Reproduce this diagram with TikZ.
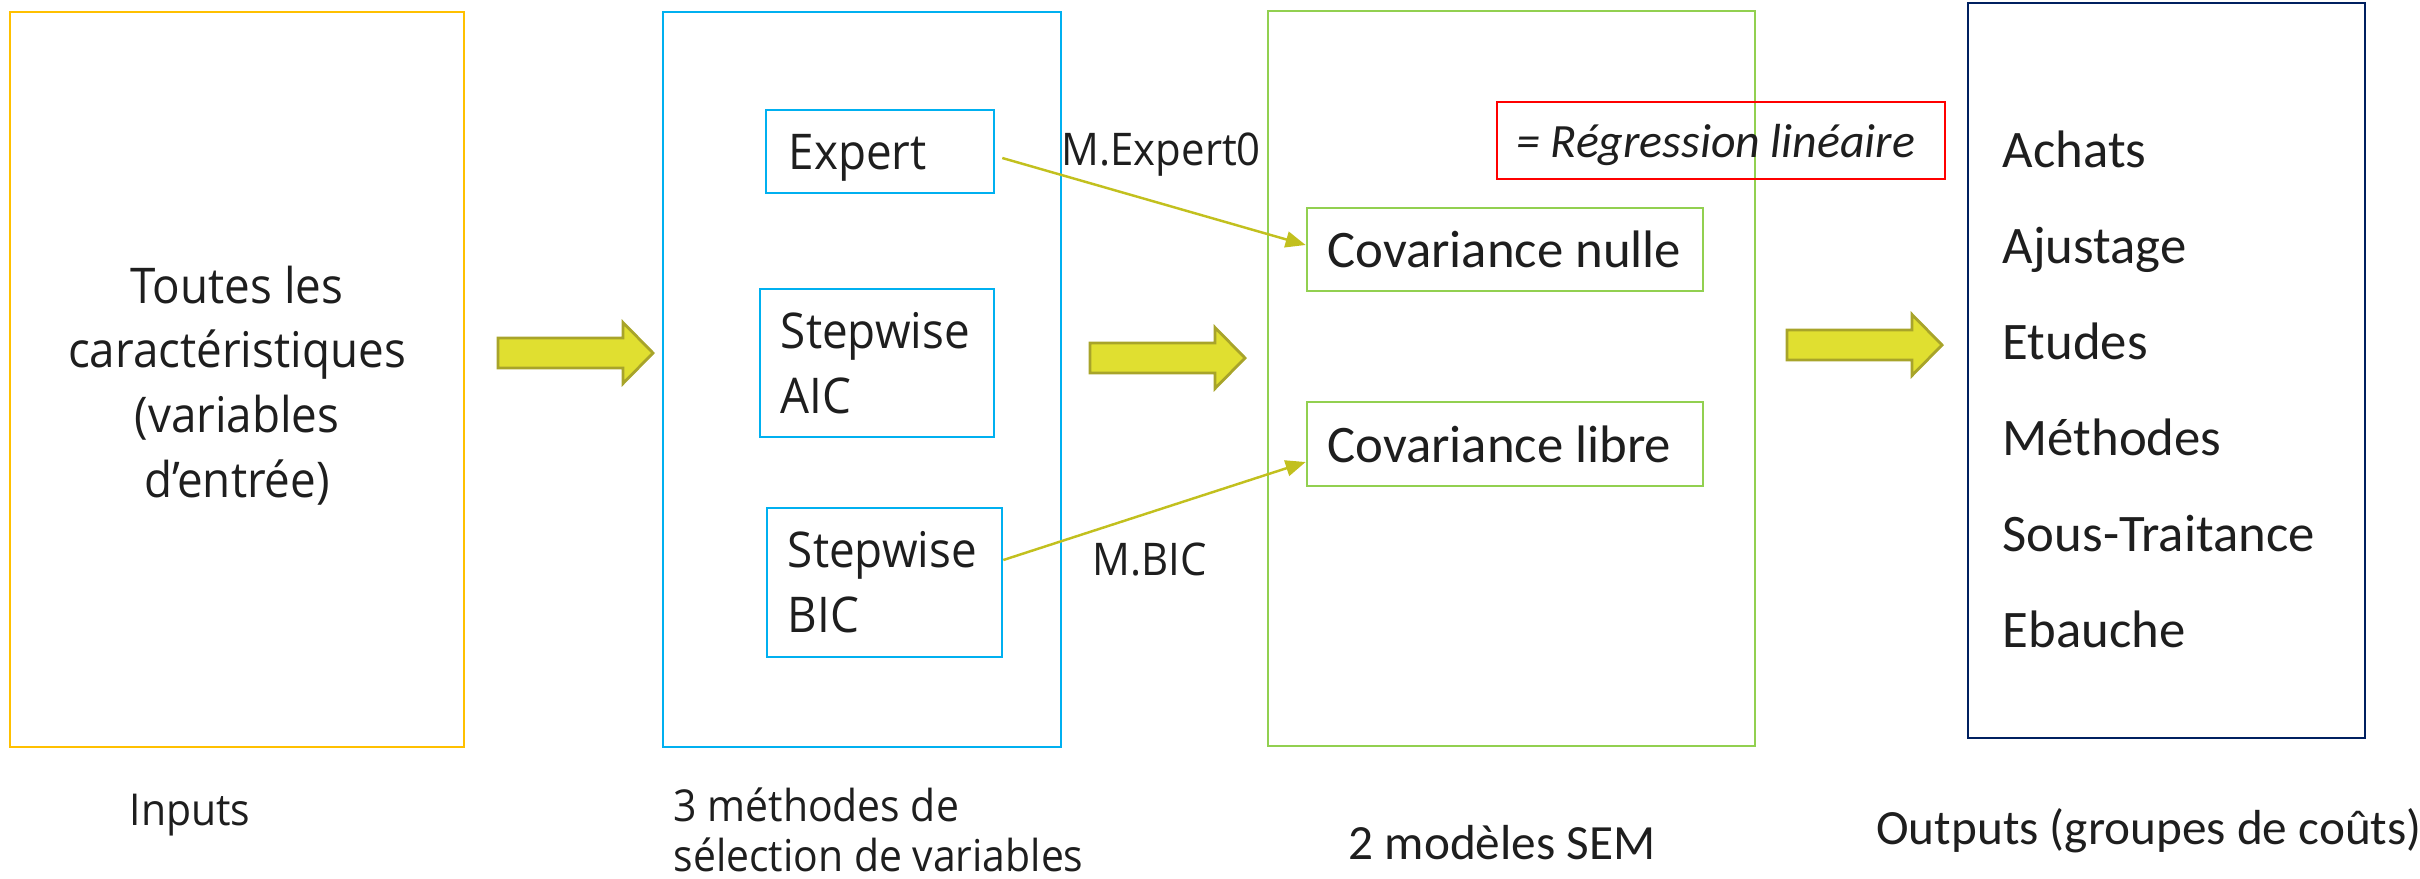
\documentclass[tikz,border=0pt]{standalone}
\usepackage{fontspec}
\usetikzlibrary{arrows.meta,calc}
\newfontfamily\segfont[FakeStretch=0.93]{Open Sans}
\newfontfamily\calfont{Carlito}
\definecolor{cyel}{HTML}{FFC000}
\definecolor{cblue}{HTML}{00B0F0}
\definecolor{cgreen}{HTML}{92D050}
\definecolor{cnavy}{HTML}{002060}
\definecolor{cred}{HTML}{FF0000}
\definecolor{ctext}{HTML}{1E1E1E}
\definecolor{cafill}{HTML}{E0DF30}
\definecolor{caedge}{HTML}{A8A42A}
\definecolor{cconn}{HTML}{C2C01E}
\tikzset{
  box/.style={draw, line width=0.7pt, rectangle, inner sep=0pt, text=ctext},
  seltext/.style={font=\segfont\fontsize{14}{18.4}\selectfont},
  caltext/.style={font=\calfont\fontsize{15}{18}\selectfont},
  lbl/.style={inner sep=0pt, text=ctext},
  barrow/.style={fill=cafill, draw=caedge, line width=0.8pt, line join=miter},
  conn/.style={draw=cconn, line width=0.7pt, -{Triangle[length=0.2cm,width=0.16cm]}}
}
\newcommand\blockarr[2]{%
  \draw[barrow] (#1,#2-15) -- ++(125,0) -- ++(0,-15.5) -- ++(30,30.5) -- ++(-30,30.5) -- ++(0,-15.5) -- ++(-125,0) -- cycle;}
\begin{document}
\begin{tikzpicture}[x=0.01cm,y=-0.01cm]
\useasboundingbox (0,0) rectangle (2420,878);

% big boxes
\node[box, draw=cyel, minimum width=4.54cm, minimum height=7.35cm] (inbox) at (237,379.5) {};
\node[lbl, align=center, seltext] (intext) at ($(inbox.center)+(0,6)$)
  {Toutes les\\caractéristiques\\(variables\\d’entrée)};
\node[box, draw=cblue, minimum width=3.98cm, minimum height=7.35cm] (selbox) at (862,379.5) {};
\node[box, draw=cgreen, minimum width=4.87cm, minimum height=7.35cm] (sembox) at (1511.5,378.5) {};
\node[box, draw=cnavy, minimum width=3.97cm, minimum height=7.35cm] (outbox) at (2166.5,370.5) {};

% selection methods
\node[box, draw=cblue, minimum width=2.28cm, minimum height=0.83cm] (expert) at (880,151.5) {};
\node[lbl, seltext, anchor=base west] (expertt) at (788,169) {Expert};
\node[box, draw=cblue, seltext, minimum height=1.48cm, inner xsep=0.21cm, text width=1.92cm, align=left] (aic) at (877,363) {Stepwise\\AIC};
\node[box, draw=cblue, seltext, minimum height=1.49cm, inner xsep=0.21cm, text width=1.93cm, align=left] (bic) at (884.5,582.5) {Stepwise\\BIC};

% SEM models
\node[box, draw=cgreen, minimum width=3.96cm, minimum height=0.83cm] (covn) at (1505,249.5) {};
\node[lbl, caltext, anchor=west] (covnt) at ($(covn.west)+(21,0)$) {Covariance nulle};
\node[box, draw=cgreen, minimum width=3.96cm, minimum height=0.84cm] (covl) at (1505,444) {};
\node[lbl, caltext, anchor=west] (covlt) at ($(covl.west)+(21,0)$) {Covariance libre};
\node[box, draw=cred, minimum width=4.48cm, minimum height=0.77cm] (reg) at (1721,140.5) {};
\node[lbl, font=\calfont\fontsize{13.6}{16}\selectfont, anchor=west] (regt) at ($(reg.west)+(20,4)$) {\itshape = Régression linéaire};

% outputs list
\node[lbl, anchor=west, align=left, font=\calfont\fontsize{15}{27.3}\selectfont] (outlist) at (2002,389)
  {Achats\\Ajustage\\Etudes\\Méthodes\\Sous-Traitance\\Ebauche};

% block arrows
\blockarr{498}{353}
\blockarr{1090}{358}
\blockarr{1787}{345}

% connectors
\draw[conn] ($(expert.east)+(7,6.5)$) -- ($(covn.west)+(0,-4.5)$);
\draw[conn] ($(bic.east)+(0,-22.5)$) -- ($(covl.west)+(0,18)$);
\node[lbl, anchor=west, font=\segfont\fontsize{12.8}{15}\selectfont] (mexp) at (1061,155) {M.Expert0};
\node[lbl, anchor=west, font=\segfont\fontsize{12.8}{15}\selectfont] (mbic) at (1092,560) {M.BIC};

% captions
\node[lbl, font=\segfont\fontsize{12.5}{14.2}\selectfont] (lin) at (190,815) {Inputs};
\node[lbl, anchor=west, align=left, font=\segfont\fontsize{12.5}{14.2}\selectfont] (lsel) at (673,829.5) {3 méthodes de\\sélection de variables};
\node[lbl, font=\calfont\fontsize{14}{16}\selectfont] (lsem) at (1502,843) {2 modèles SEM};
\node[lbl, font=\calfont\fontsize{14}{16}\selectfont] (lout) at (2149,831) {Outputs (groupes de coûts)};
\end{tikzpicture}
\end{document}
